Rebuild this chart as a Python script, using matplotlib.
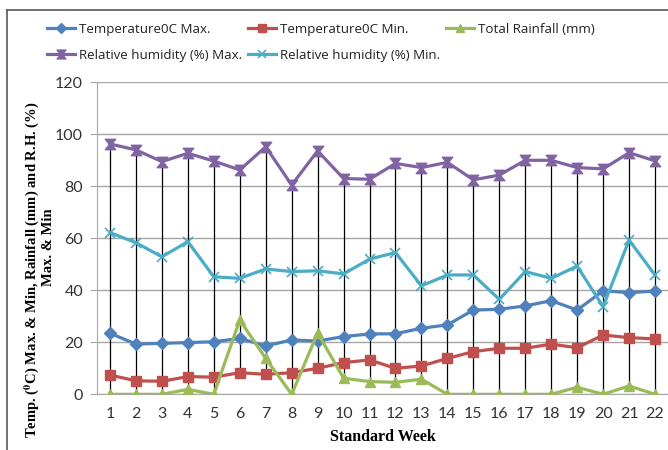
#!/usr/bin/env python3
import numpy as np
import matplotlib
matplotlib.use("Agg")
import matplotlib.pyplot as plt
from matplotlib.path import Path
from matplotlib.lines import Line2D

weeks = list(range(1, 23))
temp_max = [23.5, 19.3, 19.6, 19.9, 20.2, 21.5, 18.6, 20.9, 20.5, 22.2, 23.2, 23.3,
            25.4, 26.7, 32.4, 32.7, 34.0, 36.0, 32.4, 39.8, 39.1, 39.7]
temp_min = [7.4, 5.2, 5.0, 6.8, 6.6, 8.3, 7.7, 8.3, 10.0, 12.2, 13.2, 10.0,
            10.9, 13.8, 16.4, 17.7, 17.7, 19.3, 17.9, 22.8, 21.8, 21.3]
rainfall = [0.0, 0.0, 0.0, 1.9, 0.0, 28.6, 13.8, 0.0, 23.6, 6.2, 4.9, 4.6,
            5.8, 0.0, 0.0, 0.0, 0.0, 0.0, 2.7, 0.0, 3.2, 0.0]
rh_max = [96.3, 94.0, 89.5, 92.7, 89.7, 86.3, 95.2, 80.5, 93.6, 83.0, 82.7, 88.8,
          87.2, 89.2, 82.5, 84.3, 90.0, 90.0, 87.2, 86.7, 92.9, 89.8]
rh_min = [62.2, 58.3, 52.9, 58.7, 45.2, 44.6, 48.2, 47.2, 47.5, 46.3, 52.0, 54.5,
          41.7, 45.9, 45.9, 36.5, 47.2, 44.6, 49.3, 33.7, 59.3, 45.9]

labels = ["Temperature0C Max.", "Temperature0C Min.", "Total Rainfall (mm)",
          "Relative humidity (%) Max.", "Relative humidity (%) Min."]
colors = ["#4F81BD", "#C0504D", "#9BBB59", "#8064A2", "#4BACC6"]

plt.rcParams["mathtext.fontset"] = "stix"
sans = ["Lato", "DejaVu Sans"]
legfont = ["Open Sans", "DejaVu Sans"]
serif = ["Liberation Serif", "DejaVu Serif"]

# hourglass marker for RH max
hourglass = Path([(-1, 1), (1, 1), (0.2, 0), (1, -1), (-1, -1), (-0.2, 0), (-1, 1)],
                 [Path.MOVETO] + [Path.LINETO] * 5 + [Path.CLOSEPOLY])

fig = plt.figure(figsize=(6.68, 4.5), dpi=100)
ax = fig.add_axes([97 / 668, 1 - 394.3 / 450, 571 / 668, 312 / 450])

series = [temp_max, temp_min, rainfall, rh_max, rh_min]
styles = [dict(marker="D", ms=6), dict(marker="s", ms=7), dict(marker="^", ms=7.5),
          dict(marker=hourglass, ms=7.5), dict(marker="x", ms=7, mew=1.2)]

# high-low lines
data = np.array(series)
ax.vlines(weeks, data.min(axis=0), data.max(axis=0), color="black", lw=0.9, zorder=2)

handles = []
for vals, lab, col, st in zip(series, labels, colors, styles):
    h, = ax.plot(weeks, vals, color=col, lw=2.3, label=lab, zorder=3,
                 markerfacecolor=col, markeredgecolor=col, **st)
    handles.append(h)

ax.set_xlim(0.5, 22.5)
ax.set_ylim(0, 120)
ax.set_yticks(range(0, 121, 20))
ax.set_xticks(weeks)
ax.grid(axis="y", color="#A6A6A6", lw=1)
ax.set_axisbelow(True)
for s in ["top", "right"]:
    ax.spines[s].set_visible(False)
ax.spines["left"].set_color("#A6A6A6")
ax.spines["bottom"].set_color("#A6A6A6")
ax.tick_params(axis="y", length=5, color="#A6A6A6", pad=5)
ax.tick_params(axis="x", length=0, pad=9)
for t in ax.get_xticklabels() + ax.get_yticklabels():
    t.set_family(sans)
    t.set_fontsize(11.5)
    t.set_color("#333333")

fig.text(383 / 668, 1 - 437 / 450, "Standard Week", ha="center", va="center",
         family=serif, weight="bold", fontsize=11.5)
fig.text(32 / 668, 1 - 270 / 450,
         "Temp. ($\\mathbf{^{0}}$C) Max. & Min, Rainfall (mm) and R.H. (%)",
         rotation=90, ha="center", va="center", family=serif, weight="bold", fontsize=10.5)
fig.text(48 / 668, 1 - 247 / 450, "Max. & Min", rotation=90, ha="center", va="center",
         family=serif, weight="bold", fontsize=10.5)

order = [0, 3, 1, 4, 2]
leg = fig.legend([handles[i] for i in order], [labels[i] for i in order],
                 ncol=3, loc="upper left", bbox_to_anchor=(44 / 668, 1 - 20 / 450),
                 frameon=False, prop={"family": legfont, "size": 9.6},
                 handlelength=2.1, handletextpad=0.3, columnspacing=0.45,
                 labelspacing=1.0, markerscale=0.85, borderpad=0.2,
                 borderaxespad=0)
for t in leg.get_texts():
    t.set_color("#222222")

# outer chart border
fig.add_artist(Line2D([7 / 668, 1], [1 - 10 / 450] * 2, color="#595959", lw=1.2,
                      transform=fig.transFigure))
fig.add_artist(Line2D([7 / 668] * 2, [0, 1 - 10 / 450], color="#595959", lw=1.2,
                      transform=fig.transFigure))

fig.savefig("out.png", dpi=100)
